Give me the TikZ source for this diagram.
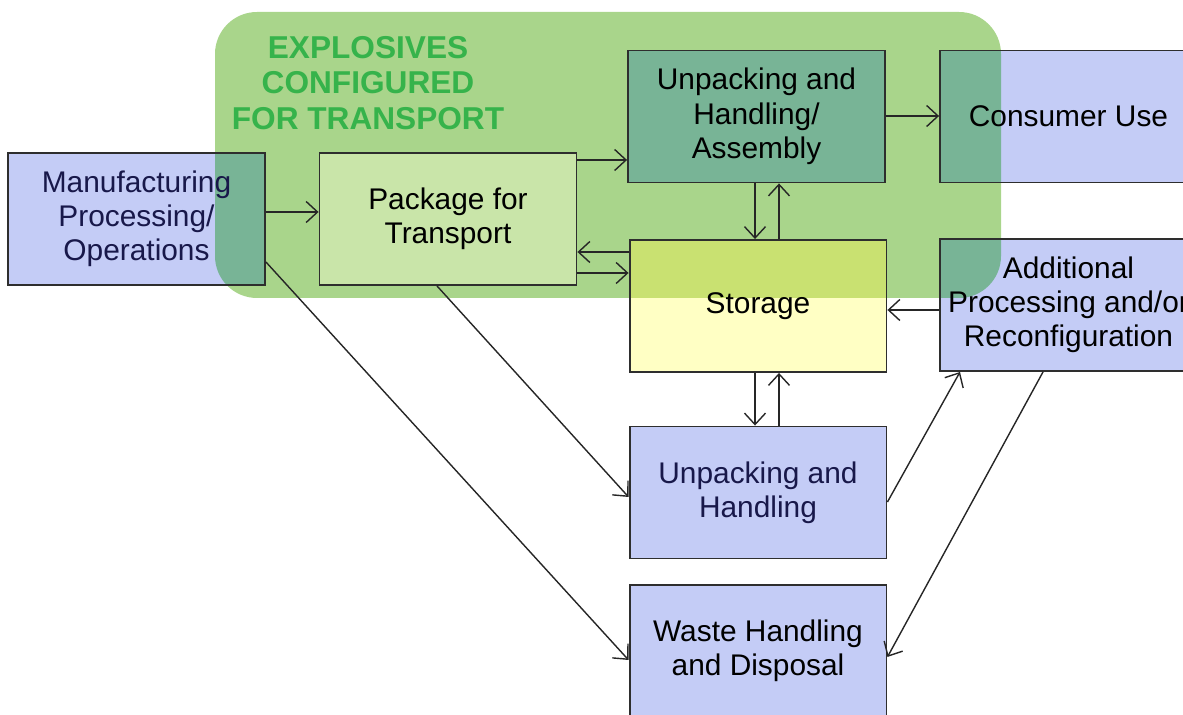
\documentclass[tikz,border=0pt]{standalone}
\usepackage{fontspec}
\setmainfont{Liberation Sans}
\usetikzlibrary{arrows.meta}
\pgfdeclarelayer{bg}
\pgfsetlayers{bg,main}
\definecolor{boxblue}{HTML}{C4CCF6}
\definecolor{boxblueov}{HTML}{78B496}
\definecolor{ovgreen}{HTML}{A9D58B}
\definecolor{packov}{HTML}{C9E5A9}
\definecolor{storyel}{HTML}{FFFFC4}
\definecolor{storyelov}{HTML}{C9E171}
\definecolor{ovtext}{HTML}{36B34B}
\definecolor{navy}{HTML}{18184A}
\definecolor{border}{HTML}{2E2E2E}
\tikzset{
  box/.style={draw=border, line width=1.1pt, minimum width=5.14cm, minimum height=2.64cm,
    inner sep=0pt, align=center, font=\fontsize{17}{19.5}\selectfont},
  bluebox/.style={box, text=navy},
  arr/.style={line width=0.8pt, draw=black!85, -{Straight Barb[length=6.5pt,width=12pt,line width=0.8pt]}},
}
\begin{document}
\begin{tikzpicture}[x=0.02cm, y=-0.02cm]
\useasboundingbox (0,0) rectangle (1183,715);
% nodes
\node[bluebox] (man) at (136.5,219) {Manufacturing\\Processing/\\Operations};
\node[box] (pack) at (448,219) {Package for\\Transport};
\node[box] (ua) at (756.5,116.5) {Unpacking and\\Handling/\\Assembly};
\node[box] (cons) at (1068.5,116.5) {Consumer Use};
\node[box] (stor) at (758,306) {Storage};
\node[box] (add) at (1068.5,305) {Additional\\Processing and/or\\Reconfiguration};
\node[bluebox] (uh) at (758,492.5) {Unpacking and\\Handling};
\node[box] (waste) at (758,651) {Waste Handling\\and Disposal};
% fills
\begin{pgfonlayer}{bg}
  \fill[ovgreen, rounded corners=0.84cm] (215,12) rectangle (1001,298);
  \foreach \n in {man,ua,cons,add,uh,waste}
    \fill[boxblue] (\n.south west) rectangle (\n.north east);
  \fill[storyel] (stor.south west) rectangle (stor.north east);
  \begin{scope}
    \clip[rounded corners=0.84cm] (215,12) rectangle (1001,298);
    \foreach \n in {man,ua,cons,add}
      \fill[boxblueov] (\n.south west) rectangle (\n.north east);
    \fill[storyelov] (stor.south west) rectangle (stor.north east);
    \fill[packov] (pack.south west) rectangle (pack.north east);
  \end{scope}
\end{pgfonlayer}
\node[text=ovtext, align=center, font=\bfseries\fontsize{18}{20.3}\selectfont] (title) at (368,83) {EXPLOSIVES\\CONFIGURED\\FOR TRANSPORT};
% connectors
\draw[arr] (man.east |- 0,212) -- (pack.west |- 0,212);
\draw[arr] (pack.east |- 0,160) -- (ua.west |- 0,160);
\draw[arr] (stor.west |- 0,252) -- (pack.east |- 0,252);
\draw[arr] (pack.east |- 0,273) -- (stor.west |- 0,273);
\draw[arr] (ua.south -| 755,0) -- (stor.north -| 755,0);
\draw[arr] (stor.north -| 779,0) -- (ua.south -| 779,0);
\draw[arr] (ua.east |- 0,116) -- (cons.west |- 0,116);
\draw[arr] (add.west |- 0,310) -- (stor.east |- 0,310);
\draw[arr] (stor.south -| 755,0) -- (uh.north -| 755,0);
\draw[arr] (uh.north -| 779,0) -- (stor.south -| 779,0);
\draw[arr] (pack.south -| 437,0) -- (uh.west |- 0,497);
\draw[arr] (man.east |- 0,262) -- (waste.west |- 0,660);
\draw[arr] (uh.east |- 0,502) -- (add.south -| 960,0);
\draw[arr] (add.south -| 1043,0) -- (waste.east |- 0,657);
\end{tikzpicture}
\end{document}
